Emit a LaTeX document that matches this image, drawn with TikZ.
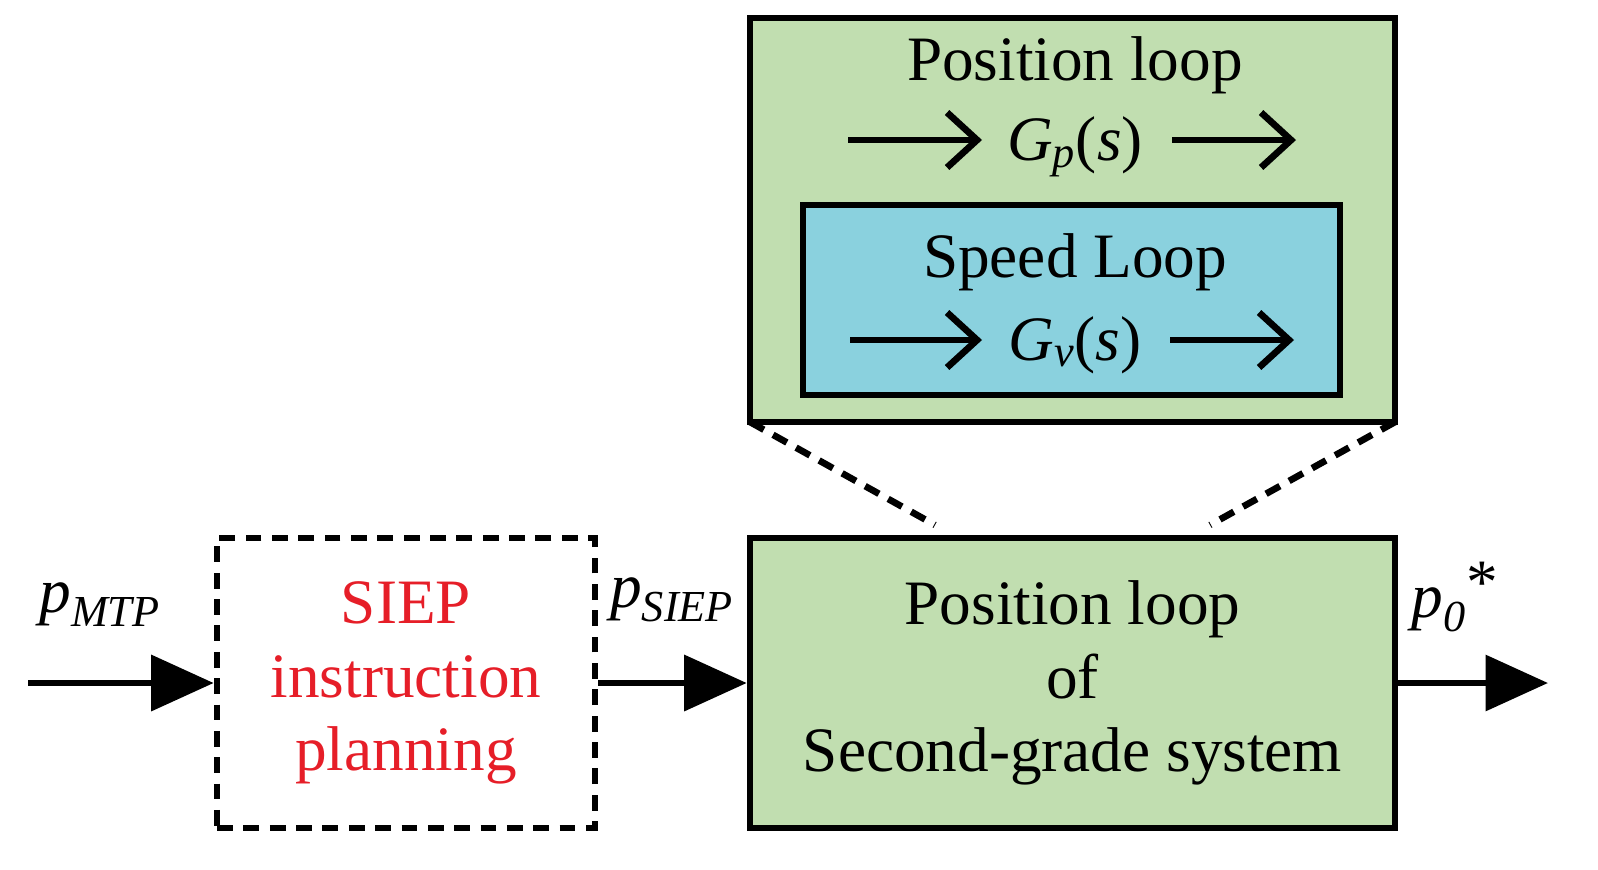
\documentclass[tikz,border=0pt]{standalone}
\usepackage{fontspec}
\setmainfont{Liberation Serif}
\usetikzlibrary{arrows.meta}
\begin{document}
\begin{tikzpicture}[x=0.02cm,y=-0.02cm,
 box/.style={draw=black,line width=3.8pt},
 txt/.style={font=\fontsize{36}{44}\selectfont,align=center},
 big/.style={line width=3.8pt,-{Triangle[length=1.25cm,width=1.1cm]}},
 small/.style={line width=3.8pt,-{Straight Barb[length=0.6cm,width=1.1cm,line width=3.8pt]}},
 dsh/.style={line width=3.8pt,dash pattern=on 9pt off 6pt}]
\useasboundingbox (0,0) rectangle (1598,869);
\fill[box,fill={rgb,255:red,193;green,222;blue,176}] (750,18) rectangle (1395,422);
\fill[box,fill={rgb,255:red,138;green,209;blue,222}] (803,205) rectangle (1340,395);
\node[txt] (pl1) at (1075,65) {Position loop};
\node[txt] (gp) at (1075,147) {\textit{G\textsubscript{p}}(\textit{s})};
\coordinate (a1) at (848,140); \coordinate (a2) at (982,140);
\coordinate (a3) at (1172,140); \coordinate (a4) at (1296,140);
\draw[small] (a1) -- (a2); \draw[small] (a3) -- (a4);
\node[txt] (sl) at (1075,262) {Speed Loop};
\node[txt] (gv) at (1075,345) {\textit{G\textsubscript{v}}(\textit{s})};
\coordinate (b1) at (850,340); \coordinate (b2) at (982,340);
\coordinate (b3) at (1170,340); \coordinate (b4) at (1294,340);
\draw[small] (b1) -- (b2); \draw[small] (b3) -- (b4);
\coordinate (d1) at (750,422); \coordinate (d2) at (935,525);
\coordinate (d3) at (1395,422); \coordinate (d4) at (1210,525);
\draw[dsh] (d1) -- (d2); \draw[dsh] (d3) -- (d4);
\node[box,fill={rgb,255:red,193;green,222;blue,176},minimum width=12.9cm,minimum height=5.8cm,txt] (sys) at (1072.5,683)
 {Position loop\\[-2pt] of\\[-2pt] Second-grade system};
\node[draw=black,line width=3.8pt,dash pattern=on 9pt off 6pt,minimum width=7.56cm,minimum height=5.8cm,txt,text={rgb,255:red,230;green,30;blue,40}] (siep) at (406,683)
 {SIEP\\[-2pt] instruction\\[-2pt] planning};
\coordinate (in) at (28,683); \coordinate (out) at (1548,683);
\draw[big] (in) -- (siep.west);
\draw[big] (siep.east) -- (sys.west);
\draw[big] (sys.east) -- (out);
\node[txt] (l1) at (100,605) {\textit{p\textsubscript{MTP}}};
\node[txt] (l2) at (672,600) {\textit{p\textsubscript{SIEP}}};
\node[txt] (l3) at (1455,597) {\textit{p\textsubscript{0}}\raisebox{0.5ex}{*}};
\end{tikzpicture}
\end{document}
